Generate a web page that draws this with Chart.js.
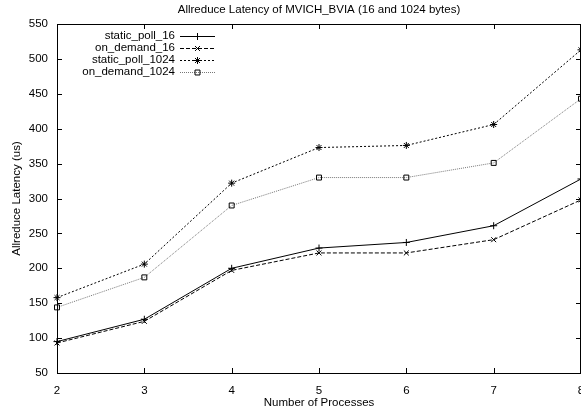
<!DOCTYPE html>
<html>
<head>
<meta charset="utf-8">
<script src="https://cdn.jsdelivr.net/npm/chart.js@4.4.1/dist/chart.umd.min.js"></script>
<style>
  html, body { margin: 0; padding: 0; background: #fff; overflow: hidden; }
  #wrap { width: 600px; height: 412px; }
</style>
</head>
<body>
<div id="wrap"><canvas id="myChart" width="600" height="412"></canvas></div>
<script>
const processes = [2, 3, 4, 5, 6, 7, 8];
const staticPoll16 = [95, 127, 200, 229, 237, 261, 328];
const onDemand16 = [93, 124, 197, 222, 222, 241, 298];
const staticPoll1024 = [158, 206, 322, 373, 376, 406, 513];
const onDemand1024 = [144, 187, 290, 330, 330, 351, 443];

const chartTitle = "Allreduce Latency of MVICH_BVIA (16 and 1024 bytes)";
const xTitle = "Number of Processes";
const yTitle = "Allreduce Latency (us)";

const FONT = "Liberation Sans, Arial, sans-serif";
const FSIZE = 11.5;

let ctx = document.getElementById('myChart');

const series = [
  { label: 'static_poll_16', data: staticPoll16, color: '#000', dash: [], style: 'cross', r: 3.5 },
  { label: 'on_demand_16', data: onDemand16, color: '#000', dash: [4, 2], style: 'crossRot', r: 3.5 },
  { label: 'static_poll_1024', data: staticPoll1024, color: '#000', dash: [2, 2], style: 'star', r: 3.5 },
  { label: 'on_demand_1024', data: onDemand1024, color: '#777', dash: [1, 1], style: 'rect', r: 3.5 }
];

// gnuplot-like frame: box border, inward ticks on all four sides, title, legend
const framePlugin = {
  id: 'frame',
  afterDatasetsDraw(chart) {
    const c = chart.ctx;
    const a = chart.chartArea;
    const xs = chart.scales.x, ys = chart.scales.y;
    c.save();
    c.strokeStyle = '#000';
    c.lineWidth = 1;
    c.setLineDash([]);
    c.strokeRect(a.left + 0.5, a.top + 0.5, a.right - a.left - 1, a.bottom - a.top);
    c.beginPath();
    ys.ticks.forEach(t => {
      const y = Math.round(ys.getPixelForValue(t.value)) + 0.5;
      c.moveTo(a.left, y); c.lineTo(a.left + 5, y);
      c.moveTo(a.right - 5, y); c.lineTo(a.right, y);
    });
    xs.ticks.forEach(t => {
      const x = Math.round(xs.getPixelForValue(t.value)) + 0.5;
      c.moveTo(x, a.bottom); c.lineTo(x, a.bottom - 5);
      c.moveTo(x, a.top); c.lineTo(x, a.top + 5);
    });
    c.stroke();

    // title, centred over the plot area
    c.fillStyle = '#000';
    c.font = FSIZE + 'px ' + FONT;
    c.textAlign = 'center';
    c.textBaseline = 'middle';
    c.fillText(chartTitle, (a.left + a.right) / 2, 10);

    // legend: labels right aligned, line sample with marker to the right
    const tx = 175, lx0 = 180, lx1 = 215;
    chart.data.datasets.forEach((ds, i) => {
      const y = 36 + i * 11.9;
      c.textAlign = 'right';
      c.fillStyle = '#000';
      c.fillText(ds.label, tx, y);
      c.strokeStyle = ds.borderColor;
      c.lineWidth = 1;
      c.setLineDash(ds.borderDash);
      c.beginPath();
      c.moveTo(lx0, Math.round(y) + 0.5);
      c.lineTo(lx1, Math.round(y) + 0.5);
      c.stroke();
      c.setLineDash([]);
      c.strokeStyle = '#000';
      c.fillStyle = 'rgba(0,0,0,0)';
      Chart.helpers.drawPoint(c, {
        pointStyle: ds.pointStyle, radius: ds.pointRadius, rotation: 0, borderWidth: 1
      }, (lx0 + lx1) / 2, Math.round(y) + 0.5);
    });
    c.restore();
  }
};

myChart = new Chart(ctx, {
  type: 'line',
  data: {
    labels: processes,
    datasets: series.map(s => ({
      label: s.label,
      data: s.data,
      borderColor: s.color,
      borderWidth: 1,
      borderDash: s.dash,
      pointStyle: s.style,
      pointRadius: s.r,
      pointBorderColor: '#000',
      pointBackgroundColor: 'rgba(0,0,0,0)',
      pointBorderWidth: 1,
      tension: 0,
      fill: false,
      clip: false
    }))
  },
  options: {
    responsive: false,
    animation: false,
    events: [],
    layout: { padding: { top: 24, right: 19, left: 0, bottom: 0 } },
    plugins: {
      legend: { display: false },
      title: { display: false },
      tooltip: { enabled: false }
    },
    scales: {
      x: {
        type: 'linear',
        min: 2,
        max: 8,
        border: { display: false },
        grid: { display: false },
        ticks: {
          stepSize: 1,
          color: '#000',
          padding: 3,
          font: { family: FONT, size: FSIZE },
          maxRotation: 0
        },
        title: {
          display: true,
          text: xTitle,
          color: '#000',
          padding: { top: 2, bottom: 2 },
          font: { family: FONT, size: FSIZE }
        },
        afterFit(scale) { scale.height = 39; }
      },
      y: {
        min: 50,
        max: 550,
        border: { display: false },
        grid: { display: false },
        ticks: {
          stepSize: 50,
          color: '#000',
          padding: 1,
          font: { family: FONT, size: FSIZE }
        },
        title: {
          display: true,
          text: yTitle,
          color: '#000',
          padding: { top: 10, bottom: 0 },
          font: { family: FONT, size: FSIZE }
        },
        afterFit(scale) { scale.width = 57; }
      }
    }
  },
  plugins: [framePlugin]
});
</script>
</body>
</html>
